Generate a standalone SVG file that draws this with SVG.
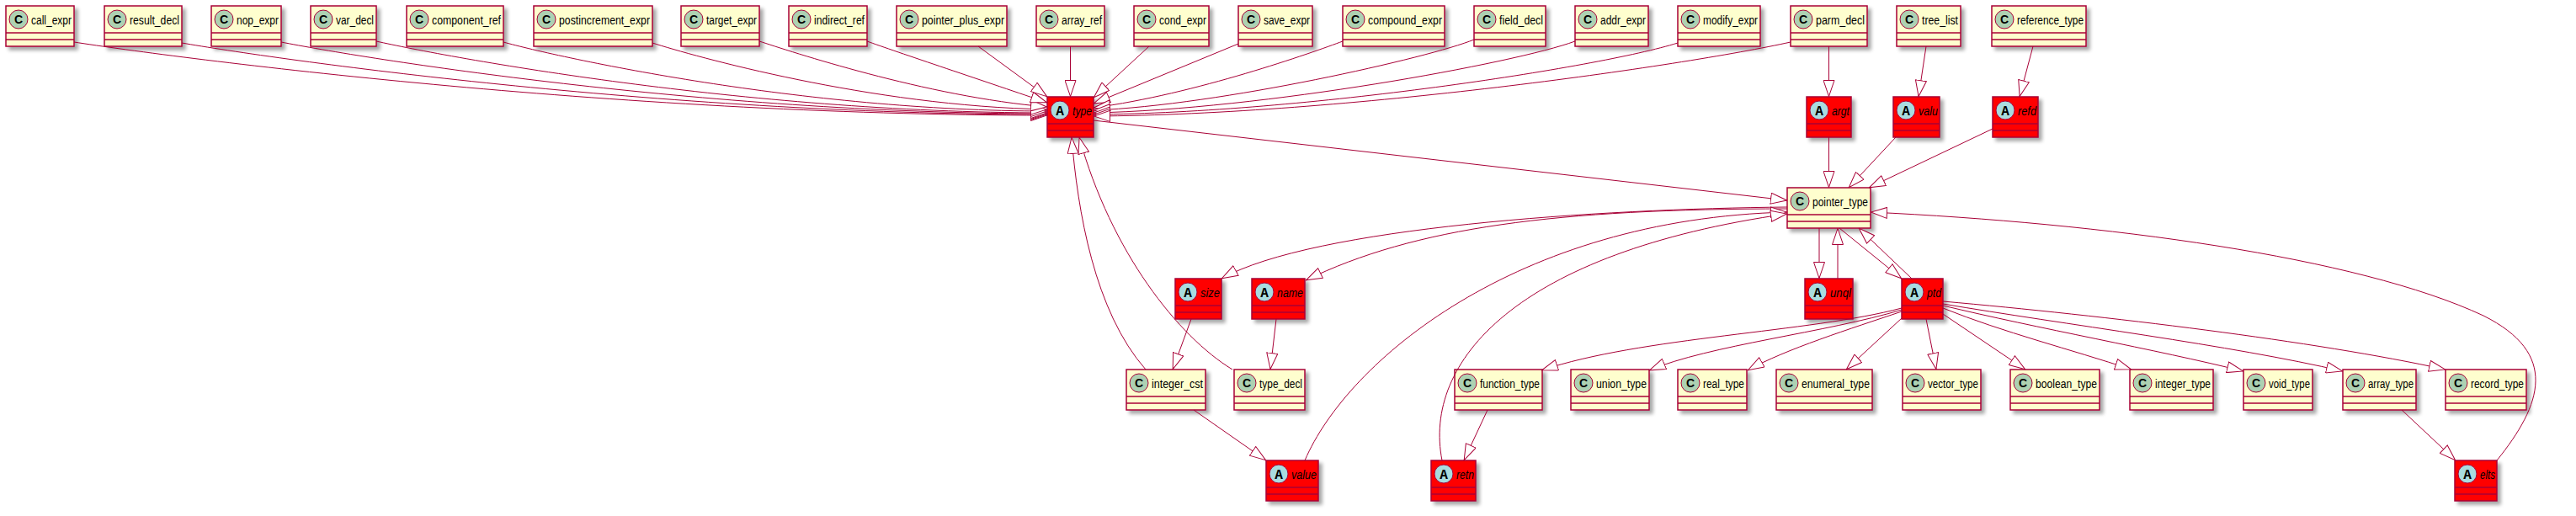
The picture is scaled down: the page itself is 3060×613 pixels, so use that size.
<svg xmlns="http://www.w3.org/2000/svg" width="3060" height="613" viewBox="0 0 3060 613">
<defs>
<filter id="sh" x="-20%" y="-20%" width="150%" height="150%">
<feGaussianBlur in="SourceAlpha" stdDeviation="2"/>
<feOffset dx="4" dy="4" result="o"/>
<feComponentTransfer><feFuncA type="linear" slope="0.35"/></feComponentTransfer>
<feMerge><feMergeNode/><feMergeNode in="SourceGraphic"/></feMerge>
</filter>
<marker id="ext" viewBox="0 0 20 14" refX="20" refY="7" markerWidth="20" markerHeight="14" markerUnits="userSpaceOnUse" orient="auto">
<path d="M0.5,0.5 L19.5,7 L0.5,13.5 Z" fill="#FFFFFF" stroke="#A80036" stroke-width="1"/>
</marker>
</defs>
<style>
.bx{fill:#FEFECE;stroke:#A80036;stroke-width:1.5;filter:url(#sh)}
.ab{fill:#FF0000;stroke:#A80036;stroke-width:1.5;filter:url(#sh)}
.sp{stroke:#A80036;stroke-width:1.5}
.cc{fill:#ADD1B2;stroke:#A80036;stroke-width:1}
.ca{fill:#A9DCDF;stroke:#A80036;stroke-width:1}
.cl{font-family:"Liberation Sans",Arial,sans-serif;font-size:14px;font-weight:bold;text-anchor:middle;fill:#000}
.al{font-family:"Liberation Mono","Courier New",monospace;font-size:16px;font-weight:bold;text-anchor:middle;fill:#000}
.nm{font-family:"Liberation Sans",Arial,sans-serif;font-size:14px;fill:#000}
.ni{font-family:"Liberation Sans",Arial,sans-serif;font-size:14px;font-style:italic;fill:#000}
.e path{fill:none;stroke:#A80036;stroke-width:1;marker-end:url(#ext)}
</style>
<rect width="3060" height="613" fill="#FFFFFF"/>

<g id="nodes">
<g id="call_expr" transform="translate(7,7)"><rect class="bx" width="81" height="48"/><line class="sp" x1="0" y1="32" x2="81" y2="32"/><line class="sp" x1="0" y1="40" x2="81" y2="40"/><circle class="cc" cx="15" cy="16" r="11"/><text class="cl" x="15" y="21">C</text><text class="nm" x="30" y="21.5" textLength="48" lengthAdjust="spacingAndGlyphs">call_expr</text></g>
<g id="result_decl" transform="translate(124,7)"><rect class="bx" width="92" height="48"/><line class="sp" x1="0" y1="32" x2="92" y2="32"/><line class="sp" x1="0" y1="40" x2="92" y2="40"/><circle class="cc" cx="15" cy="16" r="11"/><text class="cl" x="15" y="21">C</text><text class="nm" x="30" y="21.5" textLength="59" lengthAdjust="spacingAndGlyphs">result_decl</text></g>
<g id="nop_expr" transform="translate(251,7)"><rect class="bx" width="83" height="48"/><line class="sp" x1="0" y1="32" x2="83" y2="32"/><line class="sp" x1="0" y1="40" x2="83" y2="40"/><circle class="cc" cx="15" cy="16" r="11"/><text class="cl" x="15" y="21">C</text><text class="nm" x="30" y="21.5" textLength="50" lengthAdjust="spacingAndGlyphs">nop_expr</text></g>
<g id="var_decl" transform="translate(369,7)"><rect class="bx" width="78" height="48"/><line class="sp" x1="0" y1="32" x2="78" y2="32"/><line class="sp" x1="0" y1="40" x2="78" y2="40"/><circle class="cc" cx="15" cy="16" r="11"/><text class="cl" x="15" y="21">C</text><text class="nm" x="30" y="21.5" textLength="45" lengthAdjust="spacingAndGlyphs">var_decl</text></g>
<g id="component_ref" transform="translate(483,7)"><rect class="bx" width="115" height="48"/><line class="sp" x1="0" y1="32" x2="115" y2="32"/><line class="sp" x1="0" y1="40" x2="115" y2="40"/><circle class="cc" cx="15" cy="16" r="11"/><text class="cl" x="15" y="21">C</text><text class="nm" x="30" y="21.5" textLength="82" lengthAdjust="spacingAndGlyphs">component_ref</text></g>
<g id="postincrement_expr" transform="translate(634,7)"><rect class="bx" width="141" height="48"/><line class="sp" x1="0" y1="32" x2="141" y2="32"/><line class="sp" x1="0" y1="40" x2="141" y2="40"/><circle class="cc" cx="15" cy="16" r="11"/><text class="cl" x="15" y="21">C</text><text class="nm" x="30" y="21.5" textLength="108" lengthAdjust="spacingAndGlyphs">postincrement_expr</text></g>
<g id="target_expr" transform="translate(809,7)"><rect class="bx" width="93" height="48"/><line class="sp" x1="0" y1="32" x2="93" y2="32"/><line class="sp" x1="0" y1="40" x2="93" y2="40"/><circle class="cc" cx="15" cy="16" r="11"/><text class="cl" x="15" y="21">C</text><text class="nm" x="30" y="21.5" textLength="60" lengthAdjust="spacingAndGlyphs">target_expr</text></g>
<g id="indirect_ref" transform="translate(937,7)"><rect class="bx" width="93" height="48"/><line class="sp" x1="0" y1="32" x2="93" y2="32"/><line class="sp" x1="0" y1="40" x2="93" y2="40"/><circle class="cc" cx="15" cy="16" r="11"/><text class="cl" x="15" y="21">C</text><text class="nm" x="30" y="21.5" textLength="60" lengthAdjust="spacingAndGlyphs">indirect_ref</text></g>
<g id="pointer_plus_expr" transform="translate(1065,7)"><rect class="bx" width="131" height="48"/><line class="sp" x1="0" y1="32" x2="131" y2="32"/><line class="sp" x1="0" y1="40" x2="131" y2="40"/><circle class="cc" cx="15" cy="16" r="11"/><text class="cl" x="15" y="21">C</text><text class="nm" x="30" y="21.5" textLength="98" lengthAdjust="spacingAndGlyphs">pointer_plus_expr</text></g>
<g id="array_ref" transform="translate(1231,7)"><rect class="bx" width="81" height="48"/><line class="sp" x1="0" y1="32" x2="81" y2="32"/><line class="sp" x1="0" y1="40" x2="81" y2="40"/><circle class="cc" cx="15" cy="16" r="11"/><text class="cl" x="15" y="21">C</text><text class="nm" x="30" y="21.5" textLength="48" lengthAdjust="spacingAndGlyphs">array_ref</text></g>
<g id="cond_expr" transform="translate(1347,7)"><rect class="bx" width="89" height="48"/><line class="sp" x1="0" y1="32" x2="89" y2="32"/><line class="sp" x1="0" y1="40" x2="89" y2="40"/><circle class="cc" cx="15" cy="16" r="11"/><text class="cl" x="15" y="21">C</text><text class="nm" x="30" y="21.5" textLength="56" lengthAdjust="spacingAndGlyphs">cond_expr</text></g>
<g id="save_expr" transform="translate(1471,7)"><rect class="bx" width="88" height="48"/><line class="sp" x1="0" y1="32" x2="88" y2="32"/><line class="sp" x1="0" y1="40" x2="88" y2="40"/><circle class="cc" cx="15" cy="16" r="11"/><text class="cl" x="15" y="21">C</text><text class="nm" x="30" y="21.5" textLength="55" lengthAdjust="spacingAndGlyphs">save_expr</text></g>
<g id="compound_expr" transform="translate(1595,7)"><rect class="bx" width="121" height="48"/><line class="sp" x1="0" y1="32" x2="121" y2="32"/><line class="sp" x1="0" y1="40" x2="121" y2="40"/><circle class="cc" cx="15" cy="16" r="11"/><text class="cl" x="15" y="21">C</text><text class="nm" x="30" y="21.5" textLength="88" lengthAdjust="spacingAndGlyphs">compound_expr</text></g>
<g id="field_decl" transform="translate(1751,7)"><rect class="bx" width="85" height="48"/><line class="sp" x1="0" y1="32" x2="85" y2="32"/><line class="sp" x1="0" y1="40" x2="85" y2="40"/><circle class="cc" cx="15" cy="16" r="11"/><text class="cl" x="15" y="21">C</text><text class="nm" x="30" y="21.5" textLength="52" lengthAdjust="spacingAndGlyphs">field_decl</text></g>
<g id="addr_expr" transform="translate(1871,7)"><rect class="bx" width="87" height="48"/><line class="sp" x1="0" y1="32" x2="87" y2="32"/><line class="sp" x1="0" y1="40" x2="87" y2="40"/><circle class="cc" cx="15" cy="16" r="11"/><text class="cl" x="15" y="21">C</text><text class="nm" x="30" y="21.5" textLength="54" lengthAdjust="spacingAndGlyphs">addr_expr</text></g>
<g id="modify_expr" transform="translate(1993,7)"><rect class="bx" width="98" height="48"/><line class="sp" x1="0" y1="32" x2="98" y2="32"/><line class="sp" x1="0" y1="40" x2="98" y2="40"/><circle class="cc" cx="15" cy="16" r="11"/><text class="cl" x="15" y="21">C</text><text class="nm" x="30" y="21.5" textLength="65" lengthAdjust="spacingAndGlyphs">modify_expr</text></g>
<g id="parm_decl" transform="translate(2127,7)"><rect class="bx" width="91" height="48"/><line class="sp" x1="0" y1="32" x2="91" y2="32"/><line class="sp" x1="0" y1="40" x2="91" y2="40"/><circle class="cc" cx="15" cy="16" r="11"/><text class="cl" x="15" y="21">C</text><text class="nm" x="30" y="21.5" textLength="58" lengthAdjust="spacingAndGlyphs">parm_decl</text></g>
<g id="tree_list" transform="translate(2253,7)"><rect class="bx" width="76" height="48"/><line class="sp" x1="0" y1="32" x2="76" y2="32"/><line class="sp" x1="0" y1="40" x2="76" y2="40"/><circle class="cc" cx="15" cy="16" r="11"/><text class="cl" x="15" y="21">C</text><text class="nm" x="30" y="21.5" textLength="43" lengthAdjust="spacingAndGlyphs">tree_list</text></g>
<g id="reference_type" transform="translate(2366,7)"><rect class="bx" width="112" height="48"/><line class="sp" x1="0" y1="32" x2="112" y2="32"/><line class="sp" x1="0" y1="40" x2="112" y2="40"/><circle class="cc" cx="15" cy="16" r="11"/><text class="cl" x="15" y="21">C</text><text class="nm" x="30" y="21.5" textLength="79" lengthAdjust="spacingAndGlyphs">reference_type</text></g>

<g id="type" transform="translate(1244,115)"><rect class="ab" width="55" height="48"/><line class="sp" x1="0" y1="32" x2="55" y2="32"/><line class="sp" x1="0" y1="40" x2="55" y2="40"/><circle class="ca" cx="15" cy="16" r="11"/><text class="al" x="15" y="21.5">A</text><text class="ni" x="30" y="21.5" textLength="23" lengthAdjust="spacingAndGlyphs">type</text></g>
<g id="argt" transform="translate(2146,115)"><rect class="ab" width="53" height="48"/><line class="sp" x1="0" y1="32" x2="53" y2="32"/><line class="sp" x1="0" y1="40" x2="53" y2="40"/><circle class="ca" cx="15" cy="16" r="11"/><text class="al" x="15" y="21.5">A</text><text class="ni" x="30" y="21.5" textLength="21" lengthAdjust="spacingAndGlyphs">argt</text></g>
<g id="valu" transform="translate(2249,115)"><rect class="ab" width="55" height="48"/><line class="sp" x1="0" y1="32" x2="55" y2="32"/><line class="sp" x1="0" y1="40" x2="55" y2="40"/><circle class="ca" cx="15" cy="16" r="11"/><text class="al" x="15" y="21.5">A</text><text class="ni" x="30" y="21.5" textLength="23" lengthAdjust="spacingAndGlyphs">valu</text></g>
<g id="refd" transform="translate(2367,115)"><rect class="ab" width="54" height="48"/><line class="sp" x1="0" y1="32" x2="54" y2="32"/><line class="sp" x1="0" y1="40" x2="54" y2="40"/><circle class="ca" cx="15" cy="16" r="11"/><text class="al" x="15" y="21.5">A</text><text class="ni" x="30" y="21.5" textLength="22" lengthAdjust="spacingAndGlyphs">refd</text></g>

<g id="pointer_type" transform="translate(2123,223)"><rect class="bx" width="99" height="48"/><line class="sp" x1="0" y1="32" x2="99" y2="32"/><line class="sp" x1="0" y1="40" x2="99" y2="40"/><circle class="cc" cx="15" cy="16" r="11"/><text class="cl" x="15" y="21">C</text><text class="nm" x="30" y="21.5" textLength="66" lengthAdjust="spacingAndGlyphs">pointer_type</text></g>

<g id="size" transform="translate(1396,331)"><rect class="ab" width="55" height="48"/><line class="sp" x1="0" y1="32" x2="55" y2="32"/><line class="sp" x1="0" y1="40" x2="55" y2="40"/><circle class="ca" cx="15" cy="16" r="11"/><text class="al" x="15" y="21.5">A</text><text class="ni" x="30" y="21.5" textLength="23" lengthAdjust="spacingAndGlyphs">size</text></g>
<g id="name" transform="translate(1487,331)"><rect class="ab" width="63" height="48"/><line class="sp" x1="0" y1="32" x2="63" y2="32"/><line class="sp" x1="0" y1="40" x2="63" y2="40"/><circle class="ca" cx="15" cy="16" r="11"/><text class="al" x="15" y="21.5">A</text><text class="ni" x="30" y="21.5" textLength="31" lengthAdjust="spacingAndGlyphs">name</text></g>
<g id="unql" transform="translate(2144,331)"><rect class="ab" width="57" height="48"/><line class="sp" x1="0" y1="32" x2="57" y2="32"/><line class="sp" x1="0" y1="40" x2="57" y2="40"/><circle class="ca" cx="15" cy="16" r="11"/><text class="al" x="15" y="21.5">A</text><text class="ni" x="30" y="21.5" textLength="25" lengthAdjust="spacingAndGlyphs">unql</text></g>
<g id="ptd" transform="translate(2259,331)"><rect class="ab" width="49" height="48"/><line class="sp" x1="0" y1="32" x2="49" y2="32"/><line class="sp" x1="0" y1="40" x2="49" y2="40"/><circle class="ca" cx="15" cy="16" r="11"/><text class="al" x="15" y="21.5">A</text><text class="ni" x="30" y="21.5" textLength="17" lengthAdjust="spacingAndGlyphs">ptd</text></g>

<g id="integer_cst" transform="translate(1338,439)"><rect class="bx" width="94" height="48"/><line class="sp" x1="0" y1="32" x2="94" y2="32"/><line class="sp" x1="0" y1="40" x2="94" y2="40"/><circle class="cc" cx="15" cy="16" r="11"/><text class="cl" x="15" y="21">C</text><text class="nm" x="30" y="21.5" textLength="61" lengthAdjust="spacingAndGlyphs">integer_cst</text></g>
<g id="type_decl" transform="translate(1466,439)"><rect class="bx" width="84" height="48"/><line class="sp" x1="0" y1="32" x2="84" y2="32"/><line class="sp" x1="0" y1="40" x2="84" y2="40"/><circle class="cc" cx="15" cy="16" r="11"/><text class="cl" x="15" y="21">C</text><text class="nm" x="30" y="21.5" textLength="51" lengthAdjust="spacingAndGlyphs">type_decl</text></g>
<g id="function_type" transform="translate(1728,439)"><rect class="bx" width="104" height="48"/><line class="sp" x1="0" y1="32" x2="104" y2="32"/><line class="sp" x1="0" y1="40" x2="104" y2="40"/><circle class="cc" cx="15" cy="16" r="11"/><text class="cl" x="15" y="21">C</text><text class="nm" x="30" y="21.5" textLength="71" lengthAdjust="spacingAndGlyphs">function_type</text></g>
<g id="union_type" transform="translate(1866,439)"><rect class="bx" width="93" height="48"/><line class="sp" x1="0" y1="32" x2="93" y2="32"/><line class="sp" x1="0" y1="40" x2="93" y2="40"/><circle class="cc" cx="15" cy="16" r="11"/><text class="cl" x="15" y="21">C</text><text class="nm" x="30" y="21.5" textLength="60" lengthAdjust="spacingAndGlyphs">union_type</text></g>
<g id="real_type" transform="translate(1993,439)"><rect class="bx" width="82" height="48"/><line class="sp" x1="0" y1="32" x2="82" y2="32"/><line class="sp" x1="0" y1="40" x2="82" y2="40"/><circle class="cc" cx="15" cy="16" r="11"/><text class="cl" x="15" y="21">C</text><text class="nm" x="30" y="21.5" textLength="49" lengthAdjust="spacingAndGlyphs">real_type</text></g>
<g id="enumeral_type" transform="translate(2110,439)"><rect class="bx" width="114" height="48"/><line class="sp" x1="0" y1="32" x2="114" y2="32"/><line class="sp" x1="0" y1="40" x2="114" y2="40"/><circle class="cc" cx="15" cy="16" r="11"/><text class="cl" x="15" y="21">C</text><text class="nm" x="30" y="21.5" textLength="81" lengthAdjust="spacingAndGlyphs">enumeral_type</text></g>
<g id="vector_type" transform="translate(2260,439)"><rect class="bx" width="93" height="48"/><line class="sp" x1="0" y1="32" x2="93" y2="32"/><line class="sp" x1="0" y1="40" x2="93" y2="40"/><circle class="cc" cx="15" cy="16" r="11"/><text class="cl" x="15" y="21">C</text><text class="nm" x="30" y="21.5" textLength="60" lengthAdjust="spacingAndGlyphs">vector_type</text></g>
<g id="boolean_type" transform="translate(2388,439)"><rect class="bx" width="106" height="48"/><line class="sp" x1="0" y1="32" x2="106" y2="32"/><line class="sp" x1="0" y1="40" x2="106" y2="40"/><circle class="cc" cx="15" cy="16" r="11"/><text class="cl" x="15" y="21">C</text><text class="nm" x="30" y="21.5" textLength="73" lengthAdjust="spacingAndGlyphs">boolean_type</text></g>
<g id="integer_type" transform="translate(2530,439)"><rect class="bx" width="99" height="48"/><line class="sp" x1="0" y1="32" x2="99" y2="32"/><line class="sp" x1="0" y1="40" x2="99" y2="40"/><circle class="cc" cx="15" cy="16" r="11"/><text class="cl" x="15" y="21">C</text><text class="nm" x="30" y="21.5" textLength="66" lengthAdjust="spacingAndGlyphs">integer_type</text></g>
<g id="void_type" transform="translate(2665,439)"><rect class="bx" width="82" height="48"/><line class="sp" x1="0" y1="32" x2="82" y2="32"/><line class="sp" x1="0" y1="40" x2="82" y2="40"/><circle class="cc" cx="15" cy="16" r="11"/><text class="cl" x="15" y="21">C</text><text class="nm" x="30" y="21.5" textLength="49" lengthAdjust="spacingAndGlyphs">void_type</text></g>
<g id="array_type" transform="translate(2783,439)"><rect class="bx" width="87" height="48"/><line class="sp" x1="0" y1="32" x2="87" y2="32"/><line class="sp" x1="0" y1="40" x2="87" y2="40"/><circle class="cc" cx="15" cy="16" r="11"/><text class="cl" x="15" y="21">C</text><text class="nm" x="30" y="21.5" textLength="54" lengthAdjust="spacingAndGlyphs">array_type</text></g>
<g id="record_type" transform="translate(2905,439)"><rect class="bx" width="96" height="48"/><line class="sp" x1="0" y1="32" x2="96" y2="32"/><line class="sp" x1="0" y1="40" x2="96" y2="40"/><circle class="cc" cx="15" cy="16" r="11"/><text class="cl" x="15" y="21">C</text><text class="nm" x="30" y="21.5" textLength="63" lengthAdjust="spacingAndGlyphs">record_type</text></g>

<g id="value" transform="translate(1504,547)"><rect class="ab" width="62" height="48"/><line class="sp" x1="0" y1="32" x2="62" y2="32"/><line class="sp" x1="0" y1="40" x2="62" y2="40"/><circle class="ca" cx="15" cy="16" r="11"/><text class="al" x="15" y="21.5">A</text><text class="ni" x="30" y="21.5" textLength="30" lengthAdjust="spacingAndGlyphs">value</text></g>
<g id="retn" transform="translate(1700,547)"><rect class="ab" width="53" height="48"/><line class="sp" x1="0" y1="32" x2="53" y2="32"/><line class="sp" x1="0" y1="40" x2="53" y2="40"/><circle class="ca" cx="15" cy="16" r="11"/><text class="al" x="15" y="21.5">A</text><text class="ni" x="30" y="21.5" textLength="21" lengthAdjust="spacingAndGlyphs">retn</text></g>
<g id="elts" transform="translate(2916,547)"><rect class="ab" width="50" height="48"/><line class="sp" x1="0" y1="32" x2="50" y2="32"/><line class="sp" x1="0" y1="40" x2="50" y2="40"/><circle class="ca" cx="15" cy="16" r="11"/><text class="al" x="15" y="21.5">A</text><text class="ni" x="30" y="21.5" textLength="18" lengthAdjust="spacingAndGlyphs">elts</text></g>
</g>

<g id="connectors" class="e">
<path d="M88,50 C204,68 724,137 1244,137"/>
<path d="M216,51 C319,69 781,136 1244,136"/>
<path d="M334,50 C425,68 834,135 1244,135"/>
<path d="M447,49 C527,67 885,134 1244,134"/>
<path d="M598,50 C663,68 953,132 1244,132"/>
<path d="M775,51 C822,66 1033,126 1244,130"/>
<path d="M902,49 C936,60 1100,115 1244,127"/>
<path d="M1030,49 C1060,60 1180,100 1244,122"/>
<path d="M1162,55 L1244,115"/>
<path d="M1271.5,55 L1271.5,115"/>
<path d="M1365,55 L1299,116"/>
<path d="M1471,52 L1299,123"/>
<path d="M1595,49 C1560,62 1420,112 1299,128"/>
<path d="M1751,47 C1700,68 1450,125 1299,131"/>
<path d="M1871,49 C1800,75 1500,130 1299,134"/>
<path d="M1993,51 C1900,80 1550,134 1299,136"/>
<path d="M2127,50 C2000,78 1600,136 1299,138"/>
<path d="M2172.5,55 L2172.5,115"/>
<path d="M2288,55 L2279,115"/>
<path d="M2415,55 L2399,115"/>
<path d="M2172.5,163 L2172.5,223"/>
<path d="M2252,163 L2196,223"/>
<path d="M2367,153 L2220,223"/>
<path d="M1299,143 L2123,238"/>
<path d="M2123,246 C1900,248 1560,270 1451,331"/>
<path d="M2123,248 C1850,248 1680,270 1551,333"/>
<path d="M1550,547 C1600,430 1800,260 2123,252"/>
<path d="M1713,547 C1690,430 1800,300 2123,254"/>
<path d="M1415,379 L1393,439"/>
<path d="M1516,379 L1509,439"/>
<path d="M1361,439 C1300,370 1280,250 1273,163"/>
<path d="M1464,439 C1400,400 1320,300 1282,163"/>
<path d="M1418,487 L1504,547"/>
<path d="M1767,487 L1739,547"/>
<path d="M2161,271 L2161,331"/>
<path d="M2183,331 L2183,271"/>
<path d="M2185,271 L2259,331"/>
<path d="M2271,331 L2208,271"/>
<path d="M2259,366 C2150,395 1950,400 1831,440"/>
<path d="M2259,368 C2170,395 2030,410 1959,440"/>
<path d="M2259,370 C2200,390 2120,415 2076,440"/>
<path d="M2259,378 L2193,439"/>
<path d="M2288,379 L2300,439"/>
<path d="M2308,373 L2406,439"/>
<path d="M2308,366 C2380,395 2460,415 2532,439"/>
<path d="M2308,363 C2420,390 2560,415 2665,441"/>
<path d="M2308,361 C2450,385 2650,410 2783,441"/>
<path d="M2308,358 C2500,375 2750,405 2905,439"/>
<path d="M2853,487 L2917,547"/>
<path d="M2966,547 C3020,480 3040,420 2950,375 C2800,305 2500,265 2222,252"/>
</g>
</svg>
